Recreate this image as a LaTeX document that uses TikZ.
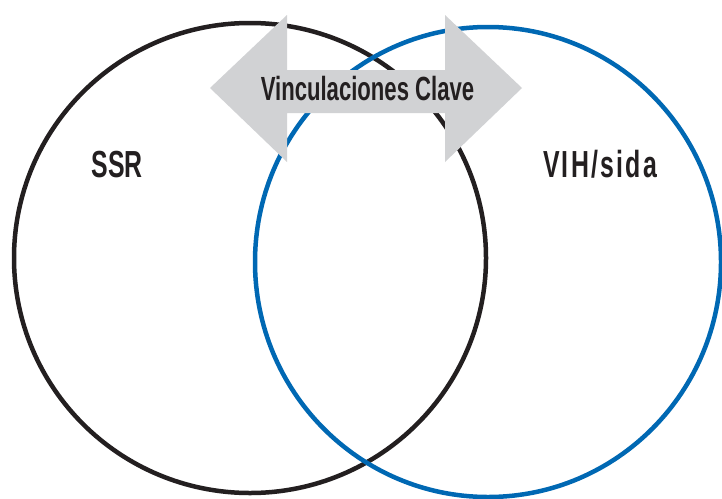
\documentclass[tikz,border=0pt]{standalone}
\usepackage{fontspec}
\newfontfamily\cond[FakeStretch=0.66]{Liberation Sans}
\definecolor{inkblack}{HTML}{231F20}
\definecolor{vennblue}{HTML}{0068B3}
\definecolor{arrowgray}{HTML}{D1D2D4}
\tikzset{
  venn/.style={draw, line width=4.5pt, fill=none},
  lbl/.style={inner sep=0pt, anchor=base, text=inkblack, font=\cond\bfseries\fontsize{37.7}{40}\selectfont},
  arrowlbl/.style={inner sep=0pt, anchor=base, text=inkblack, font=\cond\bfseries\fontsize{33.5}{36}\selectfont}
}
\begin{document}
\begin{tikzpicture}[x=1pt,y=-1pt]
\useasboundingbox (0,0) rectangle (722,498);
\clip (0,0) rectangle (722,498);
\fill[white] (0,0) rectangle (722,498);
\draw[venn, draw=inkblack] (250,258) ellipse [x radius=236, y radius=235];
\draw[venn, draw=vennblue] (488,262) ellipse [x radius=233, y radius=235];
\fill[arrowgray] (210,88) -- (287,15) -- (287,70) -- (445,70) -- (445,15) -- (522,88)
  -- (445,162) -- (445,113) -- (287,113) -- (287,162) -- cycle;
\node[arrowlbl] (link) at (367.5,100) {Vinculaciones Clave};
\node[lbl] (ssr) at (117,177) {SSR};
\node[lbl] (vih) at (600,177) {\addfontfeature{LetterSpace=6}VIH/sida};
\end{tikzpicture}
\end{document}
